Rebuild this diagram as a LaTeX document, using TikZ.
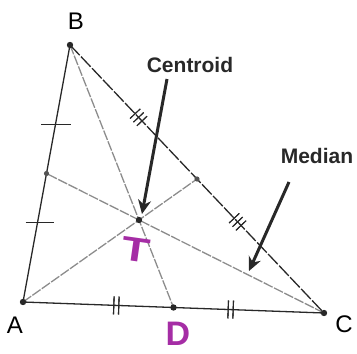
\documentclass[tikz,border=0pt]{standalone}
\usepackage{fontspec}
\setmainfont{Liberation Sans}
\usetikzlibrary{arrows.meta,decorations.markings,calc}
\definecolor{hand}{RGB}{165,45,165}
\definecolor{ink}{RGB}{40,40,40}
\tikzset{
  side/.style={draw=ink, line width=1.3pt},
  median/.style={draw=black!45, line width=1.3pt, dash pattern=on 10pt off 1.5pt},
  vertexlbl/.style={font=\fontsize{24}{24}\selectfont, text=black, inner sep=0pt},
  callout/.style={font=\fontsize{21}{21}\selectfont\bfseries, text=ink, inner sep=0pt},
  handlbl/.style={font=\fontsize{34}{34}\selectfont\bfseries, text=hand, inner sep=0pt},
  pointer/.style={draw=ink, line width=3pt, -{Stealth[length=14pt,width=13pt]}},
  dotpt/.style={fill=ink, draw=none},
  flattick/.style={draw=ink, line width=1.1pt},
  twotick/.style={postaction={decorate}, decoration={markings,
     mark=at position #1 with {\draw[ink, line width=1.1pt] (-2.5pt,-9pt) -- (-2.5pt,9pt) (2.5pt,-9pt) -- (2.5pt,9pt);}}},
  threetick/.style={postaction={decorate}, decoration={markings,
     mark=at position #1 with {\draw[ink, line width=1pt] (-5pt,-7pt) -- (-5pt,7pt) (0pt,-7pt) -- (0pt,7pt) (5pt,-7pt) -- (5pt,7pt);}}}
}
\begin{document}
\begin{tikzpicture}[x=1pt,y=-1pt]
\useasboundingbox (0,0) rectangle (357,354);
\coordinate (B) at (70,45);
\coordinate (A) at (23,302);
\coordinate (C) at (324,313);
\coordinate (MAB) at ($(A)!0.5!(B)$);
\coordinate (MBC) at ($(B)!0.5!(C)$);
\coordinate (D) at ($(A)!0.5!(C)$);
\coordinate (G) at ($1/3*(A)+1/3*(B)+1/3*(C)$);
\coordinate (T1) at ($(B)!0.31!(A)$);
\coordinate (T2) at ($(B)!0.69!(A)$);
% medians
\draw[median] (B) -- (D);
\draw[median] (A) -- (MBC);
\draw[median] (C) -- (MAB);
% sides
\draw[side] (B) -- (A);
\draw[flattick] ($(T1)+(-14,0)$) -- ($(T1)+(16,0)$);
\draw[flattick] ($(T2)+(-12,0)$) -- ($(T2)+(16,0)$);
\draw[side, twotick=0.31, twotick=0.69] (A) -- (C);
\draw[side, dash pattern=on 14pt off 2pt, threetick=0.27, threetick=0.66] (B) -- (C);
% points
\foreach \p in {A,B,C,G,D} \fill[dotpt] (\p) circle (3.2);
\foreach \p in {MAB,MBC} \fill[dotpt, fill=ink!80] (\p) circle (2.6);
% labels
\node[vertexlbl] (lblB) at (76,21) {B};
\node[vertexlbl] (lblA) at (15,325) {A};
\node[vertexlbl] (lblC) at (344,324) {C};
\node[callout] (lblCentroid) at (190,65) {Centroid};
\node[callout] (lblMedian) at (317,156) {Median};
\coordinate (arrC) at (167,79);
\coordinate (arrM) at (289,182);
\coordinate (tipC) at (142,214);
\coordinate (tipM) at (249,271);
\draw[pointer] (arrC) -- (tipC);
\draw[pointer] (arrM) -- (tipM);
\node[handlbl, rotate=-8, xscale=1.35] (lblT) at (136,250) {T};
\node[handlbl] (lblD) at (178,334) {D};
\end{tikzpicture}
\end{document}
